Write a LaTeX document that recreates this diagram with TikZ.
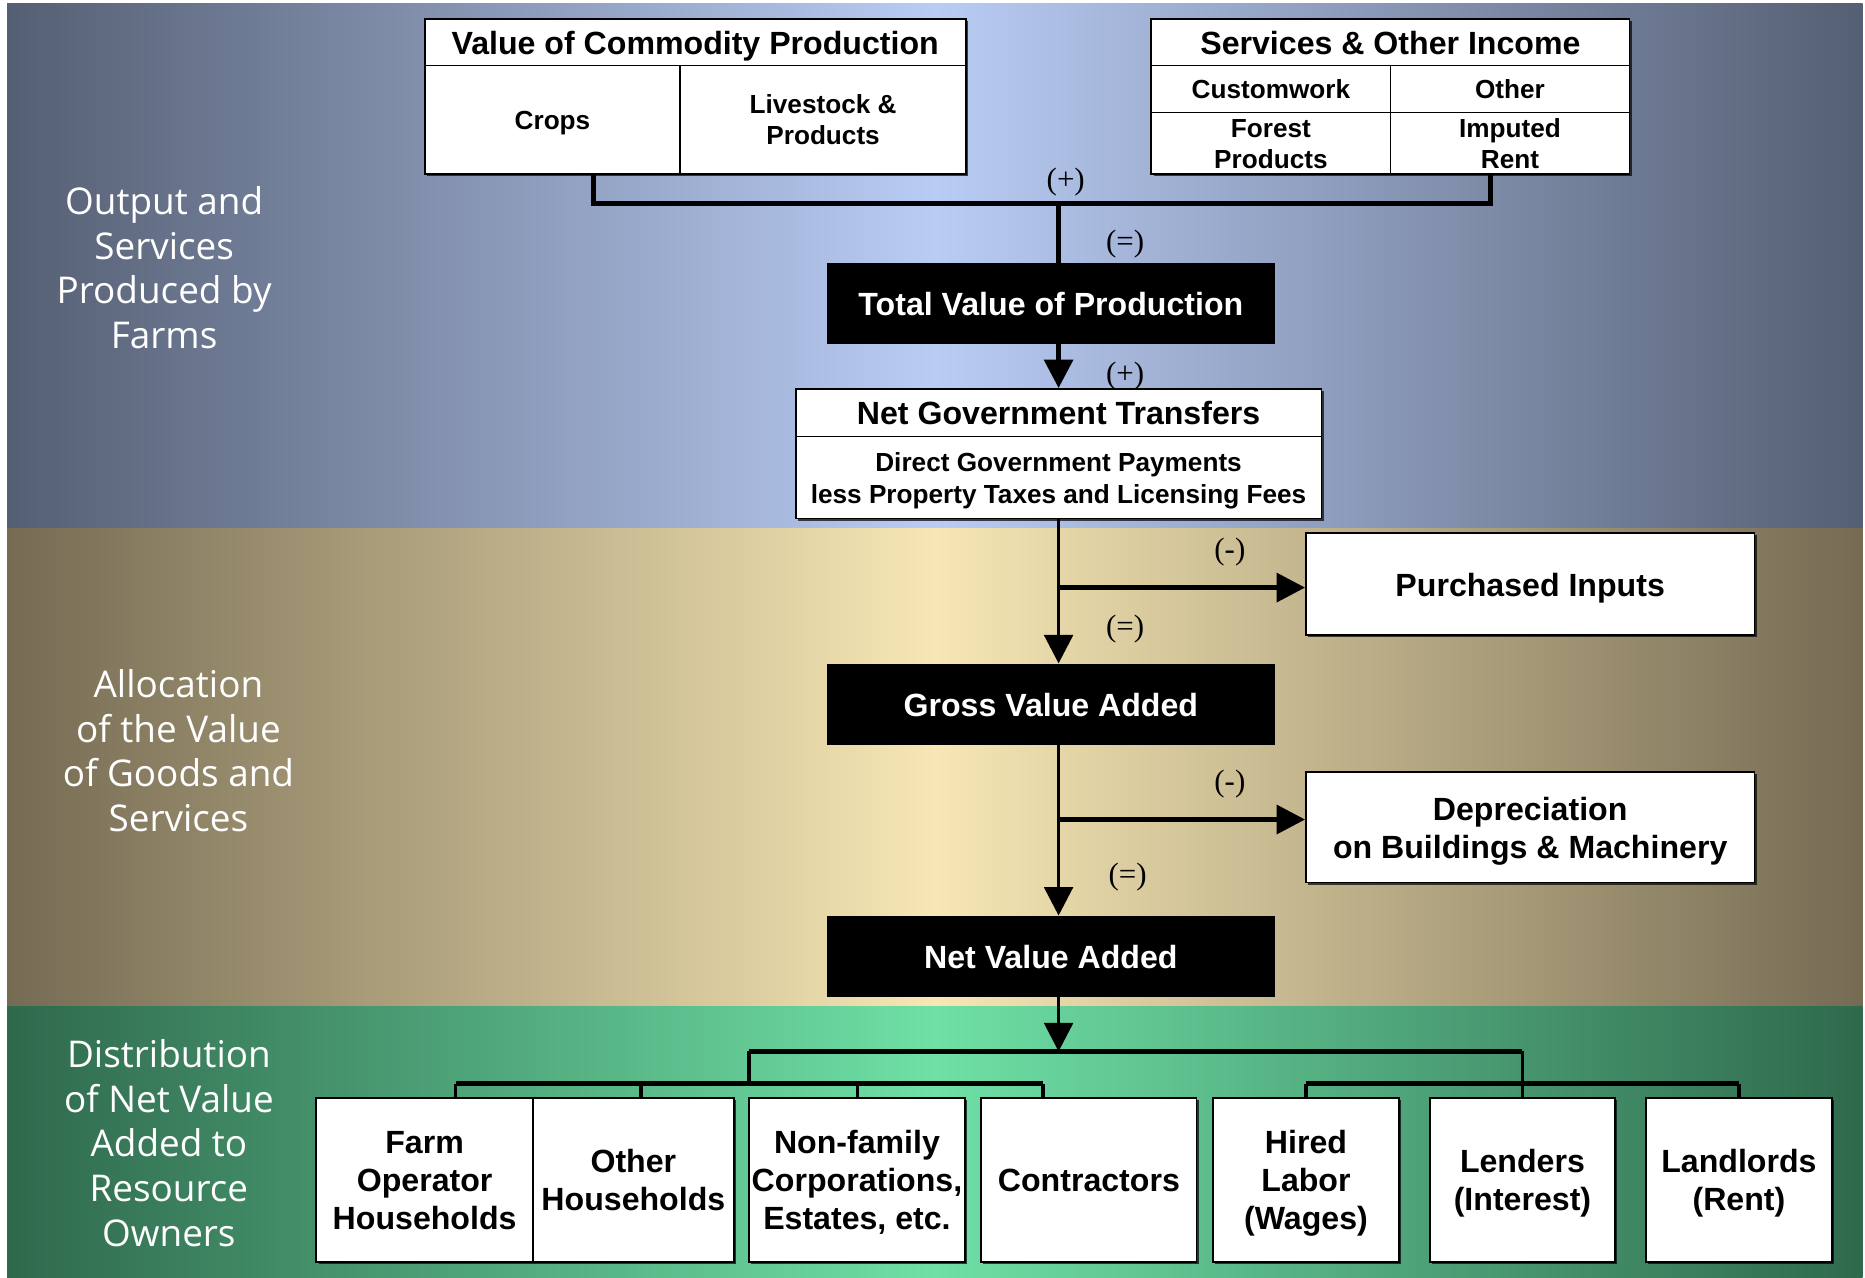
\documentclass[tikz,border=0pt]{standalone}
\usepackage{fontspec}
\setmainfont{Liberation Sans}
\newfontfamily\labfont{Open Sans}
\newfontfamily\serfont{Liberation Serif}
\usetikzlibrary{arrows.meta,shadows,calc}
\definecolor{topedge}{HTML}{555F73}
\definecolor{topmid}{HTML}{B9CCF4}
\definecolor{midedge}{HTML}{756B53}
\definecolor{midmid}{HTML}{F7E7B5}
\definecolor{botedge}{HTML}{2F694D}
\definecolor{botmid}{HTML}{6FE0A6}
\newcommand{\sk}{\rule[-0.212em]{0pt}{1.172em}}
\begin{document}
\begin{tikzpicture}[x=1pt,y=-1pt,
  wbox/.style={draw=black, line width=1.5pt, fill=white, inner sep=0pt, align=center,
    drop shadow={shadow xshift=1.8pt, shadow yshift=-1.8pt, fill=black, opacity=0.7}},
  bbox/.style={fill=black, inner sep=0pt, text=white, align=center,
    font=\bfseries\fontsize{27}{31}\selectfont, minimum width=377pt, minimum height=68pt},
  big/.style={font=\bfseries\fontsize{27}{32}\selectfont},
  small/.style={font=\bfseries\fontsize{22}{26}\selectfont},
  smallb/.style={font=\bfseries\fontsize{22}{27}\selectfont},
  lab/.style={text=white, align=center, font=\labfont\fontsize{31}{37.5}\selectfont},
  sgn/.style={font=\serfont\fontsize{26}{30}\selectfont, inner sep=0pt},
  conn/.style={line width=4.2pt},
  conn3/.style={line width=3.2pt},
  arr/.style={-{Triangle[length=24pt,width=24pt]}},
]
\useasboundingbox (0,0) rectangle (1568,1074);
\fill[white] (0,0) rectangle (1568,1074);
% background bands
\shade[left color=topedge, right color=topedge, middle color=topmid] (6,3) rectangle (1566,444.5);
\shade[left color=midedge, right color=midedge, middle color=midmid] (6,444.5) rectangle (1566,846.5);
\shade[left color=botedge, right color=botedge, middle color=botmid] (6,846.5) rectangle (1566,1074);

% side labels
\node[lab] (l1) at (138,225) {Output and\\Services\\Produced by\\Farms};
\node[lab] (l2) at (150,631) {Allocation\\of the Value\\of Goods and\\Services};
\node[lab] (l3) at (142,961) {Distribution\\of Net Value\\Added to\\Resource\\Owners};

% top tables
\node[wbox, big, minimum width=455pt, minimum height=39pt] (vcp) at (584.5,35.5) {\sk Value of Commodity Production\sk};
\node[wbox, small, minimum width=215pt, minimum height=91pt] (crops) at (464.5,100.5) {\sk Crops\sk};
\node[wbox, small, minimum width=240pt, minimum height=91pt] (live) at (692,100.5) {\sk Livestock \&\\Products\sk};
\node[wbox, big, minimum width=402pt, minimum height=39pt] (soi) at (1169,35.5) {\sk Services \& Other Income\sk};
\node[wbox, small, minimum width=201pt, minimum height=40pt] (cw) at (1068.5,75) {\sk Customwork\sk};
\node[wbox, small, minimum width=201pt, minimum height=40pt] (oth) at (1269.5,75) {\sk Other\sk};
\node[wbox, small, minimum width=201pt, minimum height=51pt] (forest) at (1068.5,120.5) {\sk Forest\\Products\sk};
\node[wbox, small, minimum width=201pt, minimum height=51pt] (imp) at (1269.5,120.5) {\sk Imputed\\Rent\sk};

% central chain
\node[bbox] (tvp) at (883.5,255) {\sk Total Value of Production\sk};
\node[wbox, big, minimum width=442pt, minimum height=40pt] (ngt) at (890,347) {\sk Net Government Transfers\sk};
\node[wbox, smallb, minimum width=442pt, minimum height=69pt] (ngtb) at (890,401.5) {\sk Direct Government Payments\\less Property Taxes and Licensing Fees\sk};
\node[wbox, big, minimum width=377pt, minimum height=86pt] (pi) at (1286.5,491) {\sk Purchased Inputs\sk};
\node[bbox] (gva) at (883.5,592) {\sk Gross Value Added\sk};
\node[wbox, big, minimum width=377pt, minimum height=93pt] (dep) at (1286.5,695.5) {\sk Depreciation\\on Buildings \& Machinery\sk};
\node[bbox] (nva) at (883.5,804) {\sk Net Value Added\sk};

% bottom boxes
\node[wbox, big, minimum width=182pt, minimum height=138pt] (farm) at (357,992) {\sk Farm\\Operator\\Households\sk};
\node[wbox, big, minimum width=169pt, minimum height=138pt] (ohh) at (532.5,992) {\sk Other\\Households\sk};
\node[wbox, big, minimum width=181pt, minimum height=138pt] (nfc) at (720.5,992) {\sk Non-family\\Corporations,\\Estates, etc.\sk};
\node[wbox, big, minimum width=181pt, minimum height=138pt] (con) at (915.5,992) {\sk Contractors\sk};
\node[wbox, big, minimum width=156pt, minimum height=138pt] (hl) at (1098,992) {\sk Hired\\Labor\\(Wages)\sk};
\node[wbox, big, minimum width=156pt, minimum height=138pt] (len) at (1280,992) {\sk Lenders\\(Interest)\sk};
\node[wbox, big, minimum width=156pt, minimum height=138pt] (ll) at (1462,992) {\sk Landlords\\(Rent)\sk};

% signs
\node[sgn] (s1) at (896,153) {(+)};
\node[sgn] (s2) at (946,205) {(=)};
\node[sgn] (s3) at (946,316) {(+)};
\node[sgn] (s4) at (1034,464) {(-)};
\node[sgn] (s5) at (946,529) {(=)};
\node[sgn] (s6) at (1034,659) {(-)};
\node[sgn] (s7) at (948,737) {(=)};

% connectors
\coordinate (jtop) at (890,171);
\draw[conn] ([xshift=34.5pt]crops.south) |- (jtop) -| ([xshift=-16.5pt]imp.south);
\draw[conn] (jtop) -- (tvp.north -| jtop);
\draw[conn, arr] (tvp.south -| ngt.north) -- (ngt.north);

\coordinate (ja) at (890,494);
\draw[conn3, arr] (ngtb.south) -- (gva.north -| ngtb.south);
\draw[conn, arr] (ja) -- (pi.west |- ja);
\coordinate (jb) at (890,689);
\draw[conn3, arr] (gva.south -| ngtb.south) -- (nva.north -| ngtb.south);
\draw[conn, arr] (jb) -- (dep.west |- jb);

\coordinate (jc) at (890,884);
\draw[conn3, arr] (nva.south -| jc) -- (jc);
\coordinate (jcl) at (630,884);
\coordinate (jcr) at (1280,884);
\draw[conn] (jcl) -- (jcr);
\coordinate (jdl) at (630,911);
\coordinate (jdr) at (1280,911);
\draw[conn3] (jcl) -- (jdl);
\draw[conn3] (jcr) -- (jdr);

\coordinate (bl1) at (383,911);
\coordinate (bl2) at (539,911);
\coordinate (bl3) at (721,911);
\coordinate (bl4) at (877,911);
\draw[conn] (bl1) -- (bl4);
\draw[conn3] (bl1) -- (bl1 |- farm.north);
\draw[conn3] (bl2) -- (bl2 |- ohh.north);
\draw[conn3] (bl3) -- (bl3 |- nfc.north);
\draw[conn3] (bl4) -- (bl4 |- con.north);

\coordinate (br1) at (1098,911);
\coordinate (br3) at (1462,911);
\draw[conn] (br1) -- (br3);
\draw[conn3] (br1) -- (hl.north);
\draw[conn3] (jdr) -- (len.north);
\draw[conn3] (br3) -- (ll.north);
\end{tikzpicture}
\end{document}
